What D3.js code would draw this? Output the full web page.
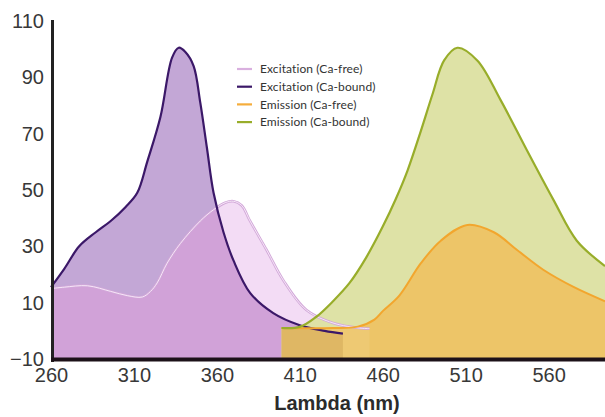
<!DOCTYPE html>
<html>
<head>
<meta charset="utf-8">
<script src="https://cdn.jsdelivr.net/npm/d3@7.9.0/dist/d3.min.js"></script>
<style>
  html, body { margin: 0; padding: 0; background: #fff; }
  svg { display: block; }
  .tick text { font-family: "Liberation Sans Narrow", "Liberation Sans", sans-serif; font-size: 20px; fill: #383838; }
  .legend text { font-family: Lato, "Open Sans", sans-serif; font-size: 12px; letter-spacing: 0.1px; fill: #333; }
</style>
</head>
<body>
<svg id="chart" width="605" height="417"></svg>
<script>
// excitation, Ca-free (nm, value)
const excFreeNm  = [260, 268, 282, 296, 306, 315, 320, 324, 330, 338, 350, 358, 365, 370, 375, 380, 390, 400, 414, 430, 446, 452];
const excFreeVal = [15, 15.5, 16, 14, 12.5, 12, 14, 17, 24, 31, 39, 43, 45.5, 46, 44.5, 39, 28.7, 18, 7.4, 2.8, 1, 0.8];
// excitation, Ca-bound
const excBoundNm  = [260, 268, 277, 287, 296, 305, 312, 318, 326, 333, 337, 341, 346, 350, 354, 358, 364, 370, 380, 394, 410, 425, 436];
const excBoundVal = [15.5, 22, 30, 35, 39, 44, 49, 60, 76, 97, 100.5, 99, 94, 81, 65, 49, 35, 25, 13.5, 6.3, 2, 0, -1];
// emission, Ca-free
const emFreeNm  = [399, 430, 445, 455, 460, 470, 483, 495, 511, 527, 541, 557, 575, 594];
const emFreeVal = [1, 1, 1.5, 4, 7, 12.5, 24, 32, 37.6, 35, 28.7, 21.6, 15.6, 10.5];
// emission, Ca-bound
const emBoundNm  = [399, 410, 420, 430, 440, 450, 460, 468, 475, 483, 490, 497, 505, 517, 531, 547, 563, 577, 594];
const emBoundVal = [1, 1.4, 5, 10.5, 17, 26, 37, 47, 57, 71, 84, 96, 100.5, 96, 82, 64, 46.4, 32, 23];

const xTicks = [260, 310, 360, 410, 460, 510, 560];
const yTicks = [-10, 10, 30, 50, 70, 90, 110];
const legendLabels = ['Excitation (Ca-free)', 'Excitation (Ca-bound)', 'Emission (Ca-free)', 'Emission (Ca-bound)'];
const legendColors = ['#d9b0df', '#3b1868', '#f5ad3c', '#98ad2a'];

const svg = d3.select('#chart');
const x = d3.scaleLinear().domain([260, 594]).range([51, 605]);
const y = d3.scaleLinear().domain([-10, 110]).range([359, 21]);

const toPts = (nm, v) => nm.map((d, i) => [d, v[i]]);
const excFree = toPts(excFreeNm, excFreeVal);
const excBound = toPts(excBoundNm, excBoundVal);
const emFree = toPts(emFreeNm, emFreeVal);
const emBound = toPts(emBoundNm, emBoundVal);

const curve = d3.curveCatmullRom.alpha(0.5);
const area = d3.area().x(d => x(d[0])).y0(y(-10)).y1(d => y(d[1])).curve(curve);
const line = d3.line().x(d => x(d[0])).y(d => y(d[1])).curve(curve);

// clip paths
const defs = svg.append('defs');
defs.append('clipPath').attr('id', 'clipBound').append('path').attr('d', area(excBound));
defs.append('clipPath').attr('id', 'clipEmFree').append('path').attr('d', area(emFree));

// excitation fills
svg.append('path').attr('d', area(excFree)).attr('fill', '#f3dcf5');
svg.append('path').attr('d', area(excBound)).attr('fill', '#c3a7d6');
svg.append('path').attr('d', area(excFree)).attr('fill', '#d1a2d8').attr('clip-path', 'url(#clipBound)');

// emission fills
svg.append('path').attr('d', area(emBound)).attr('fill', '#dee2a6');
svg.append('path').attr('d', area(emFree)).attr('fill', '#edc568');

// darker where the emission overlaps the excitation
const over = svg.append('g').attr('clip-path', 'url(#clipEmFree)');
over.append('path').attr('d', area(excFree)).attr('fill', '#fff').attr('opacity', 0.08);
over.append('path').attr('d', area(excBound)).attr('fill', '#8a5010').attr('opacity', 0.14);

// lines
svg.append('path').attr('d', line(excFree)).attr('fill', 'none').attr('stroke', '#d2a8d9').attr('stroke-width', 2.6);
svg.append('path').attr('d', line(excFree)).attr('fill', 'none').attr('stroke', '#f9edfa').attr('stroke-width', 0.9);
svg.append('path').attr('d', line(excBound)).attr('fill', 'none').attr('stroke', '#3b1868').attr('stroke-width', 2.2);
svg.append('path').attr('d', line(emFree)).attr('fill', 'none').attr('stroke', '#f2a62e').attr('stroke-width', 2);
svg.append('path').attr('d', line(emBound)).attr('fill', 'none').attr('stroke', '#98ad2a').attr('stroke-width', 2.2);

// axes (labels only, thick lines drawn separately)
svg.append('g')
    .attr('transform', `translate(44,0)`)
    .call(d3.axisLeft(y).tickValues(yTicks).tickSize(0).tickPadding(0))
    .call(g => g.select('.domain').remove());

svg.append('g')
    .attr('transform', `translate(0,${y(-10) + 6})`)
    .call(d3.axisBottom(x).tickValues(xTicks).tickSize(0).tickPadding(0))
    .call(g => g.select('.domain').remove())
    .selectAll('text').attr('dy', '0.85em');

svg.append('line')
    .attr('x1', 52.5).attr('x2', 52.5).attr('y1', y(110) - 1).attr('y2', y(-10) + 3)
    .attr('stroke', '#222').attr('stroke-width', 3);
svg.append('line')
    .attr('x1', 51).attr('x2', 605).attr('y1', y(-10) + 0.5).attr('y2', y(-10) + 0.5)
    .attr('stroke', '#1c1119').attr('stroke-width', 4);

svg.append('text')
    .attr('x', 337).attr('y', 410)
    .attr('text-anchor', 'middle')
    .style('font-family', '"Liberation Sans Narrow", "Liberation Sans", sans-serif')
    .style('font-weight', 'bold').style('font-size', '20px').style('fill', '#2b2b2b')
    .text('Lambda (nm)');

// legend
const legend = svg.append('g').attr('class', 'legend');
legendLabels.forEach((label, i) => {
    const ly = 69 + i * 17.7;
    legend.append('line')
        .attr('x1', 237).attr('x2', 252).attr('y1', ly).attr('y2', ly)
        .attr('stroke', legendColors[i]).attr('stroke-width', 2.2);
    legend.append('text')
        .attr('x', 260).attr('y', ly).attr('dy', '0.35em')
        .text(label);
});
</script>
</body>
</html>
